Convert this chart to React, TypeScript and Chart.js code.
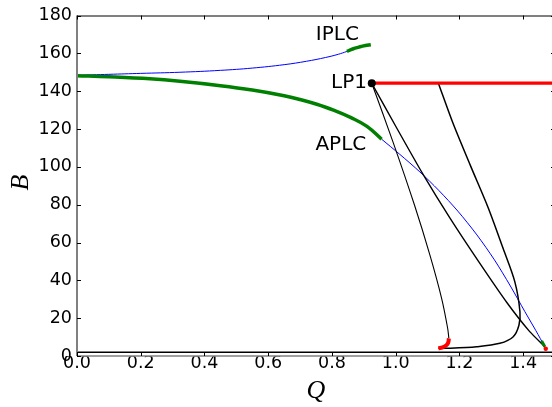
import React, { useEffect, useRef } from "react";
import { Chart, registerables } from "chart.js";

Chart.register(...registerables);

// ---- axes ----
const X_TICKS = [0, 0.2, 0.4, 0.6, 0.8, 1.0, 1.2, 1.4];
const Y_TICKS = [0, 20, 40, 60, 80, 100, 120, 140, 160, 180];
const X_MIN = 0;
const X_MAX = 1.5;
const Y_MIN = 0;
const Y_MAX = 180;

// ---- curves (Q, B) ----
const blueUpperQ = [0, 0.1, 0.2, 0.323, 0.45, 0.55, 0.65, 0.72, 0.78, 0.82, 0.847];
const blueUpperB = [148.4, 148.9, 149.4, 150.0, 151.0, 152.2, 154.0, 155.8, 157.8, 159.5, 161.0];

const greenUpperQ = [0.847, 0.865, 0.885, 0.905, 0.922];
const greenUpperB = [161.0, 162.3, 163.3, 164.1, 164.5];

const greenLowerQ = [0, 0.1, 0.229, 0.323, 0.45, 0.55, 0.65, 0.7, 0.75, 0.805, 0.86, 0.91, 0.956];
const greenLowerB = [148.2, 147.6, 146.5, 145.2, 142.9, 140.6, 137.6, 135.6, 133.2, 130.0, 126.0, 121.4, 114.6];

const blueLowerQ = [0.956, 1.013, 1.076, 1.135, 1.195, 1.255, 1.31, 1.36, 1.405, 1.44, 1.468];
const blueLowerB = [114.6, 106.6, 97.3, 87.6, 76.6, 64.0, 50.8, 37.0, 23.6, 13.4, 4.9];

const lp1Q = [0.925];
const lp1B = [144.2];

const redLineQ = [0.925, 1.5];
const redLineB = [144.2, 144.2];

const black1Q = [0.925, 0.9915, 1.059, 1.1075, 1.144, 1.163, 1.167];
const black1B = [144.2, 113.2, 79.8, 53.3, 30.6, 14.8, 9.3];

const black2Q = [0.925, 1.005, 1.086, 1.17, 1.26, 1.35, 1.42, 1.468];
const black2B = [144.2, 120.0, 96.0, 73.0, 50.0, 28.0, 13.0, 4.9];

const black3Q = [1.134, 1.18, 1.235, 1.29, 1.337, 1.374, 1.39, 1.387, 1.369, 1.327, 1.254, 1.17, 1.134];
const black3B = [144.2, 123.0, 100.5, 78.5, 56.9, 39.2, 23.4, 16.4, 10.2, 6.7, 4.9, 4.1, 4.1];

const redHookQ = [1.167, 1.165, 1.159, 1.147, 1.134];
const redHookB = [9.3, 7.1, 5.7, 4.6, 4.1];

const greenCornerQ = [1.458, 1.468];
const greenCornerB = [8.0, 4.9];

const redCornerQ = [1.471];
const redCornerB = [3.8];

const bottomQ = [0, 1.5];
const bottomB = [2.0, 2.0];

// ---- labels ----
const LABEL_TEXT = ["IPLC", "APLC", "LP1"];
const LABEL_Q = [0.817, 0.828, 0.91];
const LABEL_B = [169.7, 111.4, 144.2];
const LABEL_ALIGN: CanvasTextAlign[] = ["center", "center", "right"];

const zip = (q: number[], b: number[]) => q.map((x, i) => ({ x, y: b[i] }));

const framePlugin = {
  id: "frame",
  afterDraw(chart: any) {
    const { ctx, chartArea } = chart;
    const xs = chart.scales.x;
    const ys = chart.scales.y;
    const { left, right, top, bottom } = chartArea;
    ctx.save();
    // spines
    ctx.lineWidth = 1;
    ctx.strokeStyle = "#000";
    ctx.beginPath();
    ctx.moveTo(left, top + 0.5);
    ctx.lineTo(right, top + 0.5);
    ctx.stroke();
    ctx.strokeStyle = "#808080";
    ctx.lineWidth = 1.5;
    ctx.beginPath();
    ctx.moveTo(left, bottom);
    ctx.lineTo(right, bottom);
    ctx.stroke();
    ctx.lineWidth = 2;
    ctx.beginPath();
    ctx.moveTo(left, top);
    ctx.lineTo(left, bottom);
    ctx.stroke();
    // inward ticks
    ctx.strokeStyle = "#000";
    ctx.lineWidth = 1;
    ctx.beginPath();
    X_TICKS.forEach((v) => {
      const px = Math.round(xs.getPixelForValue(v)) + 0.5;
      ctx.moveTo(px, bottom);
      ctx.lineTo(px, bottom - 4);
      ctx.moveTo(px, top);
      ctx.lineTo(px, top + 4);
    });
    Y_TICKS.forEach((v) => {
      const py = Math.round(ys.getPixelForValue(v)) + 0.5;
      ctx.moveTo(left, py);
      ctx.lineTo(left + 4, py);
      ctx.moveTo(right, py);
      ctx.lineTo(right - 4, py);
    });
    ctx.stroke();
    // annotations
    ctx.fillStyle = "#000";
    ctx.font = "20px 'DejaVu Sans'";
    ctx.textBaseline = "middle";
    LABEL_TEXT.forEach((t, i) => {
      ctx.textAlign = LABEL_ALIGN[i];
      ctx.fillText(t, xs.getPixelForValue(LABEL_Q[i]), ys.getPixelForValue(LABEL_B[i]));
    });
    ctx.restore();
  },
};

export default function App() {
  const ref = useRef<HTMLCanvasElement | null>(null);
  useEffect(() => {
    document.documentElement.style.overflow = "hidden";
    document.body.style.margin = "0";
    document.body.style.overflow = "hidden";
    const line = (data: any, color: string, width: number, tension = 0) => ({
      data,
      showLine: true,
      borderColor: color,
      backgroundColor: color,
      borderWidth: width,
      pointRadius: 0,
      tension,
      fill: false,
    });
    const chart = new Chart(ref.current as HTMLCanvasElement, {
      type: "scatter",
      data: {
        datasets: [
          {
            data: zip(lp1Q, lp1B),
            showLine: false,
            pointRadius: 4,
            pointBackgroundColor: "#000",
            pointBorderColor: "#000",
            borderWidth: 0,
          } as any,
          {
            data: zip(redCornerQ, redCornerB),
            showLine: false,
            pointRadius: 2.2,
            pointBackgroundColor: "#ff0000",
            pointBorderColor: "#ff0000",
            borderWidth: 0,
          } as any,
          line(zip(greenCornerQ, greenCornerB), "#008000", 3),
          line(zip(redLineQ, redLineB), "#ff0000", 3.2),
          line(zip(redHookQ, redHookB), "#ff0000", 4, 0.4),
          line(zip(greenUpperQ, greenUpperB), "#008000", 3.5, 0.4),
          line(zip(greenLowerQ, greenLowerB), "#008000", 3.5, 0.4),
          line(zip(black1Q, black1B), "#000", 1.1, 0.3),
          line(zip(black2Q, black2B), "#000", 1.4, 0.2),
          line(zip(black3Q, black3B), "#000", 1.5, 0.3),
          line(zip(bottomQ, bottomB), "#000", 1.5),
          line(zip(blueUpperQ, blueUpperB), "#0000ff", 1, 0.4),
          line(zip(blueLowerQ, blueLowerB), "#0000ff", 1, 0.3),
        ],
      },
      options: {
        animation: false,
        responsive: false,
        devicePixelRatio: 1,
        layout: { padding: { top: 15.5, right: 5, left: 0, bottom: 0 } },
        plugins: { legend: { display: false }, tooltip: { enabled: false } },
        scales: {
          x: {
            type: "linear",
            min: X_MIN,
            max: X_MAX,
            position: "bottom",
            afterBuildTicks: (s: any) => {
              s.ticks = X_TICKS.map((v) => ({ value: v }));
            },
            afterFit: (s: any) => {
              s.height = 51;
              s.paddingLeft = 0;
              s.paddingRight = 0;
            },
            ticks: {
              autoSkip: false,
              maxRotation: 0,
              padding: -3,
              color: "#000",
              font: { family: "'DejaVu Sans'", size: 17.5 },
              callback: (v: any) => Number(v).toFixed(1),
            },
            grid: { display: false, drawTicks: false },
            border: { display: false },
            title: {
              display: true,
              text: "Q",
              color: "#000",
              padding: 0,
              font: { family: "'Liberation Serif'", style: "italic", size: 26 },
            },
          },
          y: {
            type: "linear",
            min: Y_MIN,
            max: Y_MAX,
            afterBuildTicks: (s: any) => {
              s.ticks = Y_TICKS.map((v) => ({ value: v }));
            },
            afterFit: (s: any) => {
              s.width = 77;
              s.paddingTop = 0;
              s.paddingBottom = 0;
            },
            ticks: {
              autoSkip: false,
              padding: 5,
              color: "#000",
              font: { family: "'DejaVu Sans'", size: 17.5 },
              callback: (v: any) => String(Math.round(Number(v))),
            },
            grid: { display: false, drawTicks: false },
            border: { display: false },
            title: {
              display: true,
              text: " B",
              color: "#000",
              padding: { top: 6, bottom: 0 },
              font: { family: "'Liberation Serif'", style: "italic", size: 26 },
            },
          },
        },
      },
      plugins: [framePlugin],
    });
    return () => chart.destroy();
  }, []);
  return (
    <div style={{ width: 560, height: 407, position: "relative" }}>
      <canvas ref={ref} width={560} height={407} style={{ width: 560, height: 407, display: "block" }} />
    </div>
  );
}
